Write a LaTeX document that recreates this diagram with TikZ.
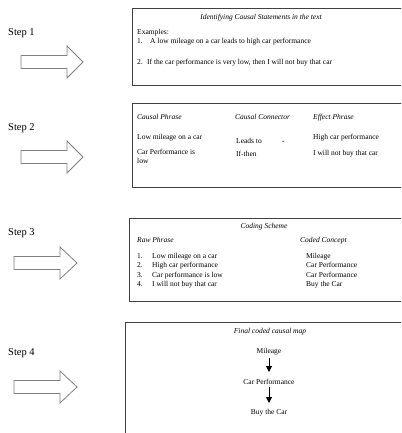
\documentclass[tikz,border=0pt]{standalone}
\usepackage{fontspec}
\setmainfont{Liberation Serif}
\usetikzlibrary{arrows.meta}
\tikzset{
  box/.style={draw=black!75, line width=0.9pt},
  txt/.style={font=\fontsize{7.5}{9}\selectfont, inner sep=0pt, anchor=mid west},
  ttl/.style={font=\fontsize{7.5}{9}\selectfont\itshape, inner sep=0pt, anchor=mid},
  hdr/.style={font=\fontsize{7.5}{9}\selectfont\itshape, inner sep=0pt, anchor=mid west},
  ctr/.style={font=\fontsize{7.5}{9}\selectfont, inner sep=0pt, anchor=mid},
  steplabel/.style={font=\fontsize{10.5}{12}\selectfont, inner sep=0pt, anchor=mid west},
  blockarrow/.style={draw=black!50, line width=0.8pt, fill=white, line join=miter},
  maparrow/.style={-{Triangle[length=6pt,width=6pt]}, line width=1pt}
}
\begin{document}
\begin{tikzpicture}[x=1pt,y=-1pt]
\useasboundingbox (0,0) rectangle (401,433);
\clip (0,0) rectangle (401,433);
% boxes
\draw[box] (132,8) rectangle (405,85);
\draw[box] (132,103) rectangle (405,187);
\draw[box] (129,218) rectangle (405,301);
\draw[box] (125,322) rectangle (405,440);
% step labels
\node[steplabel] (s1) at (8,33) {Step 1};
\node[steplabel] (s2) at (8,128) {Step 2};
\node[steplabel] (s3) at (8,233) {Step 3};
\node[steplabel] (s4) at (8,353) {Step 4};
% block arrows
\draw[blockarrow] (21,55.5) -- (67,55.5) -- (67,46) -- (83,62) -- (67,78) -- (67,68.5) -- (21,68.5) -- cycle;
\draw[blockarrow] (21,150.5) -- (67,150.5) -- (67,141) -- (83,157) -- (67,173) -- (67,163.5) -- (21,163.5) -- cycle;
\draw[blockarrow] (14,256.5) -- (60,256.5) -- (60,247) -- (77,263) -- (60,279) -- (60,269.5) -- (14,269.5) -- cycle;
\draw[blockarrow] (14,380.5) -- (60,380.5) -- (60,371) -- (77,387) -- (60,403) -- (60,393.5) -- (14,393.5) -- cycle;
% box 1
\node[ttl] (t1) at (261,17) {Identifying Causal Statements in the text};
\node[txt] (ex) at (137,32) {Examples:};
\node[txt] (n1) at (137,41.5) {1.};
\node[txt] (e1) at (150,41.5) {A low mileage on a car leads to high car performance};
\node[txt] (n2) at (137,62) {2.};
\node[txt] (e2) at (147,62) {If the car performance is very low, then I will not buy that car};
% box 2
\node[hdr] (h1) at (137,117) {Causal Phrase};
\node[hdr] (h2) at (235,117) {Causal Connector};
\node[hdr] (h3) at (313,117) {Effect Phrase};
\node[txt] (c1) at (137,137) {Low mileage on a car};
\node[txt] (k1) at (236,141) {Leads to};
\node[txt] (d1) at (282,141) {\textbf{-}};
\node[txt] (f1) at (313,137) {High car performance};
\node[txt] (c2a) at (137,152) {Car Performance is};
\node[txt] (c2b) at (137,161) {low};
\node[txt] (k2) at (236,154) {If-then};
\node[txt] (f2) at (313,153) {I will not buy that car};
% box 3
\node[ttl] (t3) at (264,226) {Coding Scheme};
\node[hdr] (r0) at (137,240) {Raw Phrase};
\node[hdr] (q0) at (300,240) {Coded Concept};
\node[txt] (m1) at (137,256) {1.};
\node[txt] (r1) at (152,256) {Low mileage on a car};
\node[txt] (q1) at (306,256) {Mileage};
\node[txt] (m2) at (137,265.5) {2.};
\node[txt] (r2) at (152,265.5) {High car performance};
\node[txt] (q2) at (306,265.5) {Car Performance};
\node[txt] (m3) at (137,275) {3.};
\node[txt] (r3) at (152,275) {Car performance is low};
\node[txt] (q3) at (306,275) {Car Performance};
\node[txt] (m4) at (137,284.5) {4.};
\node[txt] (r4) at (152,284.5) {I will not buy that car};
\node[txt] (q4) at (306,284.5) {Buy the Car};
% box 4
\node[ttl] (t4) at (270,331) {Final coded causal map};
\node[ctr] (mil) at (269,351) {Mileage};
\node[ctr] (cp) at (269,382) {Car Performance};
\node[ctr] (buy) at (269,412) {Buy the Car};
\draw[maparrow] (mil.south) ++(0,2.5) coordinate (a1) (a1) -- (mil.south |- 0,372) coordinate (a2);
\draw[maparrow] (cp.south) ++(0,2.5) coordinate (b1) (b1) -- (cp.south |- 0,403) coordinate (b2);
\end{tikzpicture}
\end{document}
